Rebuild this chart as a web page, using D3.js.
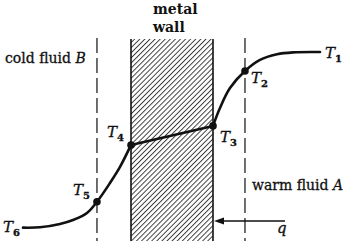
<!DOCTYPE html>
<html>
<head>
<meta charset="utf-8">
<script src="https://cdn.jsdelivr.net/npm/d3@7"></script>
<style>
  body { margin: 0; background: #fff; }
  svg text { font-family: "DejaVu Serif", "Liberation Serif", serif; fill: #111; stroke: #111; stroke-width: 0.3; }
</style>
</head>
<body>
<div id="chart"></div>
<script>
// temperature profile across the wall (position: wall = 0..10, temperature 0..100)
var leftPos   = [-13.17, -11.1, -8.66, -7.07, -5.37, -4.15, -2.56, -1.34, 0];
var leftTemp  = [0.2, 0.4, 2.3, 4.5, 8.5, 14.9, 25.6, 34.7, 47.2];
var wallPos   = [0, 10];
var wallTemp  = [47.2, 58.0];
var rightPos  = [10, 10.85, 12.07, 13.9, 15.73, 17.8, 19.76, 23.05];
var rightTemp = [58.0, 68.2, 79.5, 89.2, 95.5, 98.7, 99.8, 100];

// labelled points
var pointNames = ["1", "2", "3", "4", "5", "6"];
var pointPos   = [23.05, 13.9, 10, 0, -4.15, -13.17];
var pointTemp  = [100, 89.2, 58.0, 47.2, 14.9, 0.2];
var pointDot   = [false, true, true, true, true, false];

var filmEdges = [-4.15, 13.9];

var W = 350, H = 245;

var svg = d3.select("#chart").append("svg")
    .attr("width", W)
    .attr("height", H);

var x = d3.scaleLinear().domain([0, 10]).range([131, 213]);
var y = d3.scaleLinear().domain([0, 100]).range([228, 52]);

var wallTop = 39, wallBottom = 241;

// hatch pattern
var defs = svg.append("defs");
var pat = defs.append("pattern")
    .attr("id", "hatch")
    .attr("patternUnits", "userSpaceOnUse")
    .attr("width", 3.6)
    .attr("height", 10)
    .attr("patternTransform", "rotate(45)");
pat.append("line")
    .attr("x1", 0.5).attr("y1", 0)
    .attr("x2", 0.5).attr("y2", 10)
    .style("stroke", "#222")
    .style("stroke-width", 0.9);

svg.append("rect")
    .attr("x", x(0))
    .attr("y", wallTop)
    .attr("width", x(10) - x(0))
    .attr("height", wallBottom - wallTop)
    .style("fill", "url(#hatch)");

svg.selectAll(".wall-edge")
    .data([0, 10])
    .enter().append("line")
    .attr("class", "wall-edge")
    .attr("x1", function(d) { return x(d); })
    .attr("x2", function(d) { return x(d); })
    .attr("y1", wallTop)
    .attr("y2", wallBottom)
    .style("stroke", "#111")
    .style("stroke-width", 1.6);

// film boundaries
svg.selectAll(".film")
    .data(filmEdges)
    .enter().append("line")
    .attr("class", "film")
    .attr("x1", function(d) { return x(d); })
    .attr("x2", function(d) { return x(d); })
    .attr("y1", wallTop - 1)
    .attr("y2", wallBottom)
    .style("stroke", "#111")
    .style("stroke-width", 1.2)
    .style("stroke-dasharray", "15,5");

// profile
var curve = d3.line()
    .x(function(d) { return x(d[0]); })
    .y(function(d) { return y(d[1]); })
    .curve(d3.curveCatmullRom);

function zip(a, b) { return a.map(function(v, i) { return [v, b[i]]; }); }

[zip(leftPos, leftTemp), zip(wallPos, wallTemp), zip(rightPos, rightTemp)].forEach(function(pts) {
    svg.append("path")
        .datum(pts)
        .attr("d", curve)
        .style("fill", "none")
        .style("stroke", "#111")
        .style("stroke-width", 2.6)
        .style("stroke-linecap", "round");
});

var points = pointNames.map(function(n, i) {
    return { name: n, p: pointPos[i], t: pointTemp[i], dot: pointDot[i] };
});

svg.selectAll(".dot")
    .data(points.filter(function(d) { return d.dot; }))
    .enter().append("circle")
    .attr("class", "dot")
    .attr("cx", function(d) { return x(d.p); })
    .attr("cy", function(d) { return y(d.t); })
    .attr("r", 3.8)
    .style("fill", "#111");

var labelOffset = {
    "1": [5, 6], "2": [6, 12], "3": [7, 16],
    "4": [-24, -8], "5": [-24, -7], "6": [-20, 4]
};

var lbl = svg.selectAll(".tlabel")
    .data(points)
    .enter().append("text")
    .attr("class", "tlabel")
    .attr("x", function(d) { return x(d.p) + labelOffset[d.name][0]; })
    .attr("y", function(d) { return y(d.t) + labelOffset[d.name][1]; })
    .style("font-size", "15px");
lbl.append("tspan")
    .style("font-style", "italic")
    .text("T");
lbl.append("tspan")
    .attr("dy", 4)
    .style("font-size", "10px")
    .style("font-weight", "bold")
    .text(function(d) { return d.name; });

// titles
svg.append("text").attr("x", 153).attr("y", 14).style("font-size", "14px").style("font-weight", "bold").style("stroke-width", 0).text("metal");
svg.append("text").attr("x", 153).attr("y", 32).style("font-size", "14px").style("font-weight", "bold").style("stroke-width", 0).text("wall");

var cold = svg.append("text").attr("x", 5).attr("y", 63).style("font-size", "14px");
cold.append("tspan").text("cold fluid ");
cold.append("tspan").style("font-style", "italic").text("B");

var warm = svg.append("text").attr("x", 252).attr("y", 190).style("font-size", "14px");
warm.append("tspan").text("warm fluid ");
warm.append("tspan").style("font-style", "italic").text("A");

// heat flux arrow
svg.append("line")
    .attr("x1", 285).attr("y1", 221)
    .attr("x2", x(10) + 8).attr("y2", 221)
    .style("stroke", "#111")
    .style("stroke-width", 1.3);
svg.append("path")
    .attr("d", d3.line()([[x(10) + 1, 221], [x(10) + 11, 217.5], [x(10) + 11, 224.5]]) + "Z")
    .style("fill", "#111");
svg.append("text")
    .attr("x", 277).attr("y", 233)
    .style("font-size", "15px")
    .style("font-style", "italic")
    .text("q");
</script>
</body>
</html>
